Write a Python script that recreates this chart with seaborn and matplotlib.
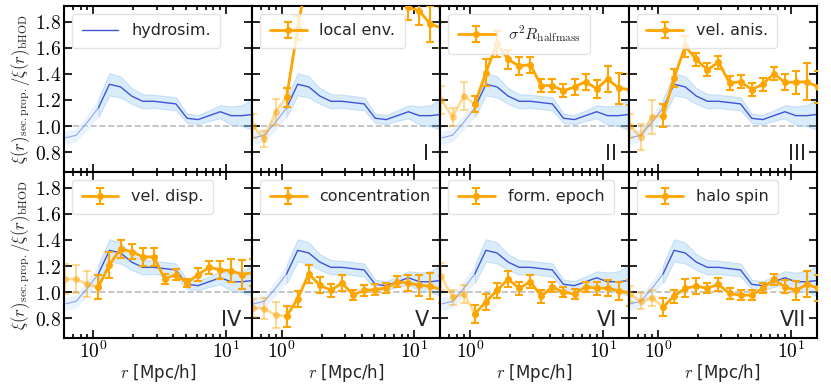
import numpy as np
import matplotlib
matplotlib.use("Agg")
import matplotlib.pyplot as plt
import matplotlib.ticker as mticker
import seaborn as sns
import pandas as pd

# radial bin centres [Mpc/h]
r_bins = [0.61, 0.74, 0.90, 1.09, 1.32, 1.60, 1.94, 2.35, 2.85, 3.45,
          4.18, 5.07, 6.14, 7.44, 9.02, 10.9, 13.2, 16.0]

# hydro simulation ratio and its 1-sigma band
hydro = [0.91, 0.93, 1.03, 1.14, 1.32, 1.30, 1.23, 1.19, 1.19, 1.18,
         1.17, 1.06, 1.05, 1.08, 1.11, 1.08, 1.08, 1.09]
hydro_err = [0.05, 0.05, 0.06, 0.07, 0.085, 0.08, 0.06, 0.055, 0.05, 0.05,
             0.05, 0.035, 0.035, 0.04, 0.05, 0.07, 0.08, 0.12]

labels = ["local env.", r"$\sigma^2 R_{\rm halfmass}$", "vel. anis.",
          "vel. disp.", "concentration", "form. epoch", "halo spin"]
roman = ["I", "II", "III", "IV", "V", "VI", "VII"]

local_env = [1.00, 0.90, 1.11, 1.22, 1.75, 2.20, 2.40, 2.50, 2.60, 2.60,
             2.50, 2.40, 2.30, 2.05, 1.91, 1.88, 1.78, 1.75]
local_env_err = [0.09, 0.06, 0.10, 0.07, 0.09, 0.10, 0.10, 0.10, 0.10, 0.10,
                 0.10, 0.10, 0.10, 0.10, 0.10, 0.11, 0.14, 0.15]
sigma_r = [1.20, 1.07, 1.23, 1.17, 1.41, 1.63, 1.51, 1.46, 1.47, 1.31,
           1.31, 1.27, 1.30, 1.34, 1.285, 1.36, 1.29, 1.28]
sigma_r_err = [0.11, 0.07, 0.11, 0.06, 0.10, 0.10, 0.075, 0.07, 0.06, 0.05,
               0.05, 0.05, 0.06, 0.06, 0.07, 0.10, 0.12, 0.12]
vel_anis = [1.00, 0.92, 1.07, 1.08, 1.37, 1.61, 1.51, 1.43, 1.49, 1.33,
            1.34, 1.28, 1.32, 1.40, 1.335, 1.335, 1.34, 1.30]
vel_anis_err = [0.09, 0.10, 0.13, 0.09, 0.07, 0.08, 0.05, 0.05, 0.05, 0.05,
                0.05, 0.05, 0.05, 0.05, 0.06, 0.09, 0.14, 0.12]
vel_disp = [1.10, 1.10, 1.06, 1.04, 1.21, 1.33, 1.31, 1.27, 1.27, 1.10,
            1.135, 1.07, 1.135, 1.19, 1.17, 1.165, 1.135, 1.15]
vel_disp_err = [0.115, 0.11, 0.10, 0.09, 0.10, 0.07, 0.06, 0.07, 0.07, 0.04,
                0.04, 0.03, 0.05, 0.05, 0.07, 0.09, 0.11, 0.10]
conc = [0.88, 0.875, 0.825, 0.817, 0.95, 1.14, 1.053, 1.015, 1.07, 0.98,
        1.013, 1.02, 1.033, 1.08, 1.07, 1.053, 1.045, 1.02]
conc_err = [0.07, 0.08, 0.10, 0.08, 0.06, 0.07, 0.06, 0.05, 0.06, 0.04,
            0.04, 0.04, 0.04, 0.04, 0.06, 0.08, 0.10, 0.10]
form_epoch = [1.12, 0.96, 0.985, 0.835, 0.926, 1.013, 1.10, 1.03, 1.08, 0.97,
              1.04, 1.00, 0.987, 1.04, 1.03, 1.03, 1.01, 0.995]
form_epoch_err = [0.10, 0.06, 0.07, 0.07, 0.06, 0.06, 0.06, 0.05, 0.05, 0.05,
                  0.04, 0.04, 0.04, 0.04, 0.05, 0.06, 0.07, 0.10]
halo_spin = [0.987, 0.93, 0.957, 0.885, 0.97, 1.03, 1.046, 1.03, 1.06, 0.99,
             0.977, 0.977, 1.03, 1.097, 1.04, 1.013, 1.06, 1.03]
halo_spin_err = [0.06, 0.06, 0.06, 0.07, 0.05, 0.07, 0.06, 0.04, 0.05, 0.04,
                 0.04, 0.04, 0.04, 0.04, 0.05, 0.07, 0.10, 0.10]

series = [local_env, sigma_r, vel_anis, vel_disp, conc, form_epoch, halo_spin]
series_err = [local_env_err, sigma_r_err, vel_anis_err, vel_disp_err,
              conc_err, form_epoch_err, halo_spin_err]

N_SMALL = 4  # bins below ~1 Mpc/h drawn faded

sns.set_style("ticks")
plt.rcParams["font.family"] = ["DejaVu Sans"]
plt.rcParams["mathtext.fontset"] = "cm"
plt.rcParams["axes.linewidth"] = 1.5
plt.rcParams["axes.edgecolor"] = "black"
plt.rcParams["xtick.color"] = "black"
plt.rcParams["ytick.color"] = "black"

df = pd.DataFrame({"r": r_bins, "ratio": hydro, "err": hydro_err})
df["lo"] = df["ratio"] - df["err"]
df["hi"] = df["ratio"] + df["err"]
small = df.iloc[:N_SMALL]
large = df.iloc[N_SMALL - 1:]

fig, axes = plt.subplots(2, 4, figsize=(8.31, 3.88), dpi=100,
                         sharex=True, sharey=True)
fig.subplots_adjust(left=0.077, right=0.983, top=0.985, bottom=0.129,
                    wspace=0, hspace=0)

orange = "orange"
for i, ax in enumerate(axes.flat):
    ax.axhline(1.0, color="#bbbbbb", ls="--", lw=1.2, zorder=0)
    # hydro band + line, faded at small r
    ax.fill_between(small["r"], small["lo"], small["hi"],
                    color="#cfe6fb", alpha=0.45, lw=0)
    ax.fill_between(large["r"], large["lo"], large["hi"],
                    color="#a9d6f7", alpha=0.45, edgecolor="#9cc4f0", lw=0.8)
    sns.lineplot(data=small, x="r", y="ratio", ax=ax, color="#3f55d8",
                 lw=0.8, alpha=0.5, legend=False)
    sns.lineplot(data=large, x="r", y="ratio", ax=ax, color="#3f55d8",
                 lw=1.0, label="hydrosim." if i == 0 else None,
                 legend=False)

    if i > 0:
        vals = series[i - 1]
        errs = series_err[i - 1]
        kw = dict(color=orange, marker="o", ms=4, lw=2, elinewidth=1.5,
                  capsize=3, capthick=1.5)
        ax.errorbar(r_bins[:N_SMALL], vals[:N_SMALL], yerr=errs[:N_SMALL],
                    alpha=0.4, **kw)
        ax.errorbar(r_bins[N_SMALL - 1:], vals[N_SMALL - 1:],
                    yerr=errs[N_SMALL - 1:], label=labels[i - 1], zorder=3,
                    **kw)
        ax.text(0.94, 0.05, roman[i - 1], transform=ax.transAxes,
                ha="right", va="bottom", fontsize=15)

    ax.set_xscale("log")
    ax.set_xlim(0.6, 15.7)
    ax.set_ylim(0.65, 1.92)
    ax.xaxis.set_major_locator(mticker.FixedLocator([1, 10]))
    ax.xaxis.set_major_formatter(
        mticker.FuncFormatter(lambda v, p: r"$10^{%d}$" % round(np.log10(v))))
    ax.yaxis.set_major_locator(mticker.FixedLocator([0.8, 1.0, 1.2, 1.4, 1.6, 1.8]))
    ax.yaxis.set_major_formatter(mticker.FuncFormatter(lambda v, p: r"$%.1f$" % v))
    ax.tick_params(which="both", direction="in", top=True, right=True,
                   labelsize=14, width=1.2, pad=2)
    ax.tick_params(which="major", length=6)
    ax.tick_params(which="minor", length=3)
    ax.set_xlabel("")
    ax.set_ylabel("")
    ax.legend(loc="upper left", fontsize=11.5, framealpha=0.8,
              edgecolor="#dddddd", handlelength=2.3,
              borderpad=0.6, bbox_to_anchor=(0.0, 1.0))

ylab = r"$\xi(r)_{\rm sec.prop.}/\xi(r)_{\rm bHOD}$"
for ax in axes[:, 0]:
    ax.set_ylabel(ylab, fontsize=12, labelpad=2)
for ax in axes[1, :]:
    ax.set_xlabel(r"$r$ [Mpc/h]", fontsize=12, labelpad=0)

fig.savefig("out.png", dpi=100)
